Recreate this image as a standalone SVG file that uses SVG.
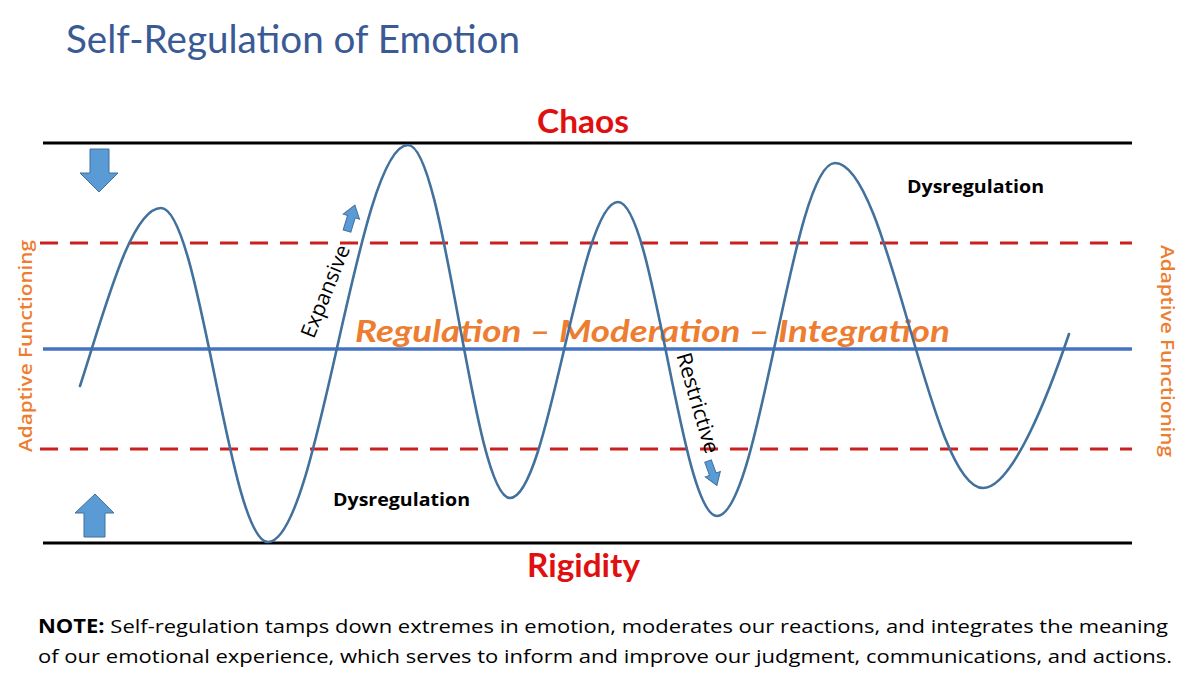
<svg xmlns="http://www.w3.org/2000/svg" width="1201" height="681" viewBox="0 0 1201 681">
<style>
.bound{stroke:#000;stroke-width:3;fill:none}
.dash{stroke:#CC1F1F;stroke-width:3;stroke-dasharray:18 12;fill:none}
.mid{stroke:#4472C4;stroke-width:3.5;fill:none}
.wave{stroke:#41719C;stroke-width:2.6;fill:none;stroke-linecap:round}
.arr{fill:#5B9BD5;stroke:#41719C;stroke-width:1}
.t{font-family:"Open Sans","Noto Sans","Liberation Sans",sans-serif}
.l{font-family:Lato,"Open Sans","Liberation Sans",sans-serif}
.red{fill:#E01010;font-weight:bold;font-size:33px}
.org{fill:#ED7D31}
.blk{fill:#000}
</style>
<rect width="1201" height="681" fill="#fff"/>
<g id="title"><text class="l" x="66" y="53" font-size="38" fill="#3A5A95" textLength="454" lengthAdjust="spacingAndGlyphs">Self-Regulation of Emotion</text></g>
<g id="lines">
<line class="bound" x1="43" y1="143" x2="1132" y2="143"/>
<line class="bound" x1="43" y1="543" x2="1132" y2="543"/>
<line class="dash" x1="40" y1="243" x2="1132" y2="243"/>
<line class="dash" x1="40" y1="449" x2="1132" y2="449"/>
<line class="mid" x1="43" y1="349" x2="1132" y2="349"/>
</g>
<g id="labels-bounds">
<text class="l red" x="537" y="133" textLength="92" lengthAdjust="spacingAndGlyphs">Chaos</text>
<text class="l red" x="527" y="577" textLength="113" lengthAdjust="spacingAndGlyphs">Rigidity</text>
</g>
<g id="regulation"><text class="l org" x="355" y="342" font-size="31" font-weight="bold" font-style="italic" textLength="595" lengthAdjust="spacingAndGlyphs">Regulation – Moderation – Integration</text></g>
<g id="wave">
<path class="wave" d="M80,386 C105,309 131,208 161,208 C200,208 229,542 268,542 C319,542 357,145 408,145 C445,145 473,498 510,498 C549,498 579,202 618,202 C654,202 681,516 717,516 C760,516 792,163 835,163 C889,163 929,488 983,488 C1013,488 1050,390 1069,334"/>
</g>
<g id="arrows">
<path class="arr" d="M90,149 H109 V173 H118 L99,192 L80,173 H90 Z"/>
<path class="arr" d="M95,494 L114,513 H105 V537 H84 V513 H75 Z"/>
<path class="arr" transform="translate(347,231) rotate(17)" d="M-4,0 V-15 H-8.5 L0,-27 L8.5,-15 H4 V0 Z"/>
<path class="arr" transform="translate(708,461) rotate(-20)" d="M-3.5,0 V14 H-8 L0,26 L8,14 H3.5 V0 Z"/>
</g>
<g id="adaptive">
<text class="t org" transform="translate(32,346) rotate(-90)" text-anchor="middle" font-size="18" font-weight="600" textLength="212" lengthAdjust="spacingAndGlyphs">Adaptive Functioning</text>
<text class="t org" transform="translate(1161,351) rotate(90)" text-anchor="middle" font-size="18" font-weight="600" textLength="212" lengthAdjust="spacingAndGlyphs">Adaptive Functioning</text>
</g>
<g id="dysregulation">
<text class="t blk" x="907" y="193" font-size="18" font-weight="bold" textLength="137" lengthAdjust="spacingAndGlyphs">Dysregulation</text>
<text class="t blk" x="333" y="506" font-size="18" font-weight="bold" textLength="137" lengthAdjust="spacingAndGlyphs">Dysregulation</text>
</g>
<g id="direction-labels">
<text class="t blk" transform="translate(332,294) rotate(-68)" text-anchor="middle" font-size="21" textLength="98" lengthAdjust="spacingAndGlyphs">Expansive</text>
<text class="t blk" transform="translate(691,405) rotate(73.5)" text-anchor="middle" font-size="21" textLength="104" lengthAdjust="spacingAndGlyphs">Restrictive</text>
</g>
<g id="note">
<text class="t blk" x="38" y="633" font-size="19" textLength="1130" lengthAdjust="spacingAndGlyphs"><tspan font-weight="bold">NOTE:</tspan> Self-regulation tamps down extremes in emotion, moderates our reactions, and integrates the meaning</text>
<text class="t blk" x="38" y="663" font-size="19" textLength="1134" lengthAdjust="spacingAndGlyphs">of our emotional experience, which serves to inform and improve our judgment, communications, and actions.</text>
</g>
</svg>
